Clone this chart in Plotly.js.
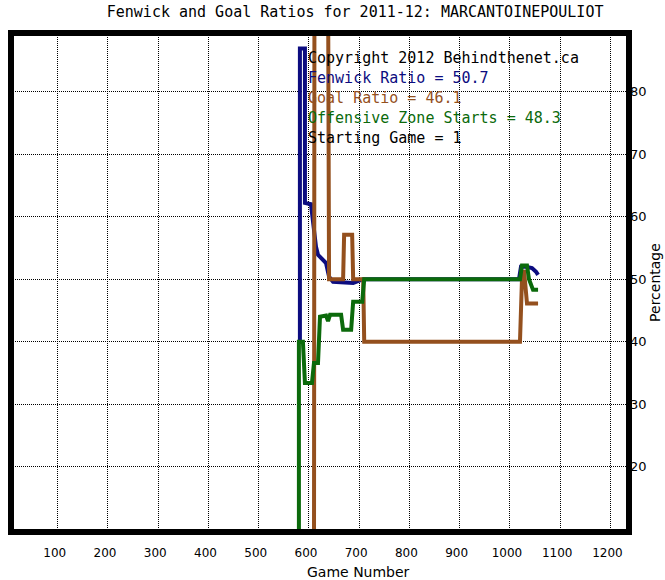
<!DOCTYPE html>
<html>
<head>
<meta charset="utf-8">
<script src="https://cdn.plot.ly/plotly-3.0.1.min.js"></script>
<style>html,body{margin:0;padding:0;background:#fff;}#chart{width:665px;height:580px;}</style>
</head>
<body>
<div id="chart"></div>
<script>
// Game numbers and percentages
const fenwickGames = [582, 582, 592, 592, 604, 614, 618, 628, 634, 640, 648, 688, 708, 1018, 1022, 1032, 1044, 1052, 1056];
const fenwickPct   = [40, 86.9, 86.9, 62.2, 62.0, 55.2, 53.9, 53.1, 52.6, 50.4, 49.6, 49.4, 50.0, 50.0, 52.0, 52.0, 51.8, 51.2, 50.7];

const goalGames = [610, 611, 638, 640, 668, 670, 686, 688, 708, 710, 1020, 1024, 1028, 1034, 1056];
const goalPct   = [0, 100, 100, 50, 50, 57.1, 57.1, 50, 50, 40, 40, 50, 51.5, 46.1, 46.1];

const ozGames = [580, 580, 588, 592, 606, 610, 618, 622, 634, 638, 642, 664, 668, 684, 688, 706, 710, 1020, 1024, 1034, 1038, 1046, 1056];
const ozPct   = [0, 40, 40, 33.4, 33.4, 36.6, 36.6, 44.0, 44.2, 43.3, 44.3, 44.3, 41.9, 41.9, 46.4, 46.4, 50.0, 50.0, 52.2, 52.2, 50.0, 48.3, 48.3];

const xTicks = [100, 200, 300, 400, 500, 600, 700, 800, 900, 1000, 1100, 1200];
const yTicks = [20, 30, 40, 50, 60, 70, 80];

const infoLines = [
  "Copyright 2012 Behindthenet.ca",
  "Fenwick Ratio = 50.7",
  "Goal Ratio = 46.1",
  "Offensive Zone Starts = 48.3",
  "Starting Game = 1"
];

const NAVY = '#0c0c80';
const BROWN = '#94501e';
const GREEN = '#0b6a0b';
const infoColors = ['#000000', NAVY, BROWN, GREEN, '#000000'];

const traces = [
  {x: fenwickGames, y: fenwickPct, mode: 'lines', line: {color: NAVY, width: 4}, name: 'Fenwick'},
  {x: goalGames, y: goalPct, mode: 'lines', line: {color: BROWN, width: 4}, name: 'Goal'},
  {x: ozGames, y: ozPct, mode: 'lines', line: {color: GREEN, width: 4}, name: 'OZ'}
];

const annotations = infoLines.map((t, i) => ({
  text: t, xref: 'paper', yref: 'paper', x: 0.477, y: 0.950 - i * 0.040,
  xanchor: 'left', yanchor: 'middle', showarrow: false,
  font: {family: 'DejaVu Sans Mono', size: 15, color: infoColors[i]}
}));

annotations.push({
  text: 'Game Number', xref: 'paper', yref: 'paper', x: 0.5615, y: -0.080,
  xanchor: 'center', yanchor: 'middle', showarrow: false,
  font: {family: 'DejaVu Sans', size: 14, color: '#000'}
});

const gridStyle = {showgrid: true, gridcolor: '#000', gridwidth: 1, griddash: '1px,1px', zeroline: false, showline: false, ticks: ''};

const layout = {
  width: 665, height: 580,
  margin: {l: 11, r: 36, t: 33, b: 48, pad: 0},
  paper_bgcolor: '#fff', plot_bgcolor: '#fff',
  showlegend: false,
  title: {text: 'Fenwick and Goal Ratios for 2011-12: MARCANTOINEPOULIOT', x: 0.534, xanchor: 'center', y: 0.979, yanchor: 'middle',
          font: {family: 'DejaVu Sans Mono', size: 15, color: '#000'}},
  xaxis: Object.assign({}, gridStyle, {
    range: [7, 1237], tickvals: xTicks, ticktext: xTicks.map(String),
    tickfont: {family: 'DejaVu Sans', size: 12, color: '#000'}, ticklabelstandoff: 12, ticklabelshift: -3
  }),
  yaxis: Object.assign({}, gridStyle, {
    range: [9.55, 89.4], side: 'right', tickvals: yTicks, ticktext: yTicks.map(String),
    tickfont: {family: 'DejaVu Sans', size: 13, color: '#000'}, ticklabelstandoff: 0,
    title: {text: 'Percentage', font: {family: 'DejaVu Sans', size: 14, color: '#000'}, standoff: 2}
  }),
  shapes: [{type: 'rect', xref: 'paper', yref: 'paper', x0: 0, x1: 1, y0: 0, y1: 1, line: {color: '#000', width: 6}, layer: 'above'}],
  annotations: annotations
};

Plotly.newPlot('chart', traces, layout, {displayModeBar: false, staticPlot: true});
</script>
</body>
</html>
